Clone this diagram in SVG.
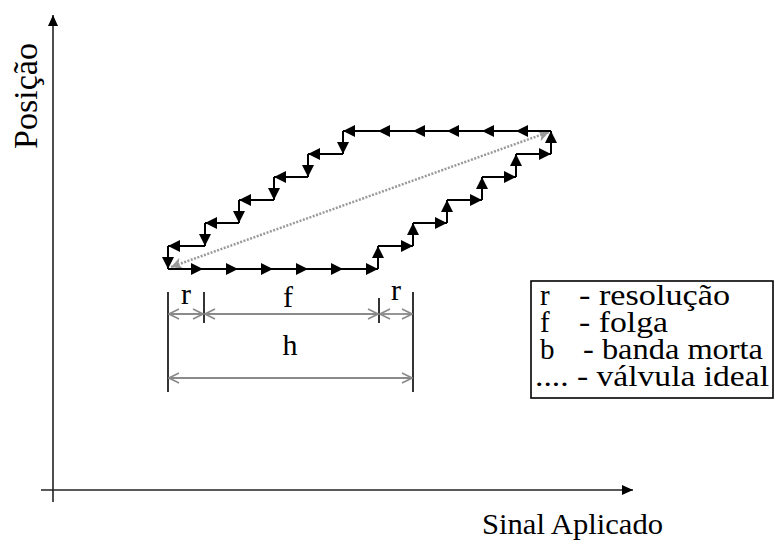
<svg xmlns="http://www.w3.org/2000/svg" width="775" height="545" viewBox="0 0 775 545" font-family="'Liberation Serif', 'DejaVu Serif', serif">
<style>
text { font-family: "Liberation Serif", "DejaVu Serif", serif; fill: #000; }
.lbl { font-size: 30px; }
.leg { font-size: 29px; }
.axis { stroke: #222; stroke-width: 1.6; fill: none; }
.path { stroke: #000; stroke-width: 2; fill: none; marker-end: url(#ah); }
.ideal { stroke: #9a9a9a; stroke-width: 2.5; stroke-dasharray: 2 1.5; fill: none; marker-start: url(#ga); marker-end: url(#ga); }
.ext { stroke: #000; stroke-width: 1.6; }
.dim { stroke: #8a8a8a; stroke-width: 1.8; fill: none; marker-start: url(#oa); marker-end: url(#oa); }
</style>
<defs>
<marker id="ah" markerUnits="userSpaceOnUse" markerWidth="13" markerHeight="13" viewBox="0 0 13 13" refX="12" refY="6.5" orient="auto">
<path d="M0,0.5 L12,6.5 L0,12.5 z" fill="#000"/>
</marker>
<marker id="axh" markerUnits="userSpaceOnUse" markerWidth="12" markerHeight="12" viewBox="0 0 12 12" refX="11" refY="6" orient="auto">
<path d="M0,1 L11,6 L0,11 z" fill="#000"/>
</marker>
<marker id="ga" markerUnits="userSpaceOnUse" markerWidth="14" markerHeight="14" viewBox="0 0 14 14" refX="12" refY="7" orient="auto-start-reverse">
<path d="M1,1 L12,7 L1,13 L4,7 z" fill="#9a9a9a"/>
</marker>
<marker id="oa" markerUnits="userSpaceOnUse" markerWidth="12" markerHeight="12" viewBox="0 0 12 12" refX="11" refY="6" orient="auto-start-reverse">
<path d="M1,1 L11,6 L1,11" fill="none" stroke="#8a8a8a" stroke-width="1.6"/>
</marker>
</defs>

<g id="axes">
<line class="axis" x1="53" y1="502" x2="53" y2="15" marker-end="url(#axh)"/>
<line class="axis" x1="41" y1="490" x2="633" y2="490" marker-end="url(#axh)"/>
<text font-size="34" transform="translate(37,96) rotate(-90)" text-anchor="middle">Posição</text>
<text class="lbl" x="482" y="534" textLength="181" lengthAdjust="spacingAndGlyphs">Sinal Aplicado</text>
</g>

<g id="connectors">
<line class="ideal" x1="171" y1="267" x2="549" y2="132"/>
<line class="path" x1="168" y1="269" x2="203" y2="269"/>
<line class="path" x1="203" y1="269" x2="238" y2="269"/>
<line class="path" x1="238" y1="269" x2="273" y2="269"/>
<line class="path" x1="273" y1="269" x2="308" y2="269"/>
<line class="path" x1="308" y1="269" x2="343" y2="269"/>
<line class="path" x1="343" y1="269" x2="378" y2="269"/>
<line class="path" x1="378" y1="269" x2="378" y2="246"/>
<line class="path" x1="378" y1="246" x2="413" y2="246"/>
<line class="path" x1="413" y1="246" x2="413" y2="223"/>
<line class="path" x1="413" y1="223" x2="447" y2="223"/>
<line class="path" x1="447" y1="223" x2="447" y2="200"/>
<line class="path" x1="447" y1="200" x2="482" y2="200"/>
<line class="path" x1="482" y1="200" x2="482" y2="177"/>
<line class="path" x1="482" y1="177" x2="516" y2="177"/>
<line class="path" x1="516" y1="177" x2="516" y2="154"/>
<line class="path" x1="516" y1="154" x2="551" y2="154"/>
<line class="path" x1="551" y1="154" x2="551" y2="131"/>
<line class="path" x1="551" y1="131" x2="516" y2="131"/>
<line class="path" x1="516" y1="131" x2="482" y2="131"/>
<line class="path" x1="482" y1="131" x2="447" y2="131"/>
<line class="path" x1="447" y1="131" x2="413" y2="131"/>
<line class="path" x1="413" y1="131" x2="378" y2="131"/>
<line class="path" x1="378" y1="131" x2="343" y2="131"/>
<line class="path" x1="343" y1="131" x2="343" y2="154"/>
<line class="path" x1="343" y1="154" x2="308" y2="154"/>
<line class="path" x1="308" y1="154" x2="308" y2="177"/>
<line class="path" x1="308" y1="177" x2="274" y2="177"/>
<line class="path" x1="274" y1="177" x2="274" y2="200"/>
<line class="path" x1="274" y1="200" x2="239" y2="200"/>
<line class="path" x1="239" y1="200" x2="239" y2="223"/>
<line class="path" x1="239" y1="223" x2="205" y2="223"/>
<line class="path" x1="205" y1="223" x2="205" y2="246"/>
<line class="path" x1="205" y1="246" x2="168" y2="246"/>
<line class="path" x1="168" y1="246" x2="168" y2="269"/>
</g>

<g id="dimensions">
<line class="ext" x1="168" y1="292" x2="168" y2="392"/>
<line class="ext" x1="413" y1="292" x2="413" y2="392"/>
<line class="ext" x1="204" y1="292" x2="204" y2="323"/>
<line class="ext" x1="379" y1="298" x2="379" y2="323"/>
<line class="dim" x1="169" y1="314" x2="203" y2="314"/>
<line class="dim" x1="205" y1="314" x2="378" y2="314"/>
<line class="dim" x1="380" y1="314" x2="412" y2="314"/>
<line class="dim" x1="169" y1="378" x2="412" y2="378"/>
<text class="lbl" x="186" y="304" text-anchor="middle">r</text>
<text class="lbl" x="288" y="307" text-anchor="middle">f</text>
<text class="lbl" x="396" y="300" text-anchor="middle">r</text>
<text class="lbl" x="290" y="355" text-anchor="middle">h</text>
</g>

<g id="legend">
<rect x="531" y="281" width="242" height="117" fill="#fff" stroke="#000" stroke-width="1.6"/>
<text class="leg" x="540" y="305">r</text>
<text class="leg" x="579" y="305" textLength="151" lengthAdjust="spacingAndGlyphs">- resolução</text>
<text class="leg" x="540" y="332">f</text>
<text class="leg" x="579" y="332" textLength="89" lengthAdjust="spacingAndGlyphs">- folga</text>
<text class="leg" x="540" y="359">b</text>
<text class="leg" x="583" y="359" textLength="180" lengthAdjust="spacingAndGlyphs">- banda morta</text>
<text class="leg" x="535" y="386" textLength="234" lengthAdjust="spacingAndGlyphs">.... - válvula ideal</text>
</g>
</svg>
